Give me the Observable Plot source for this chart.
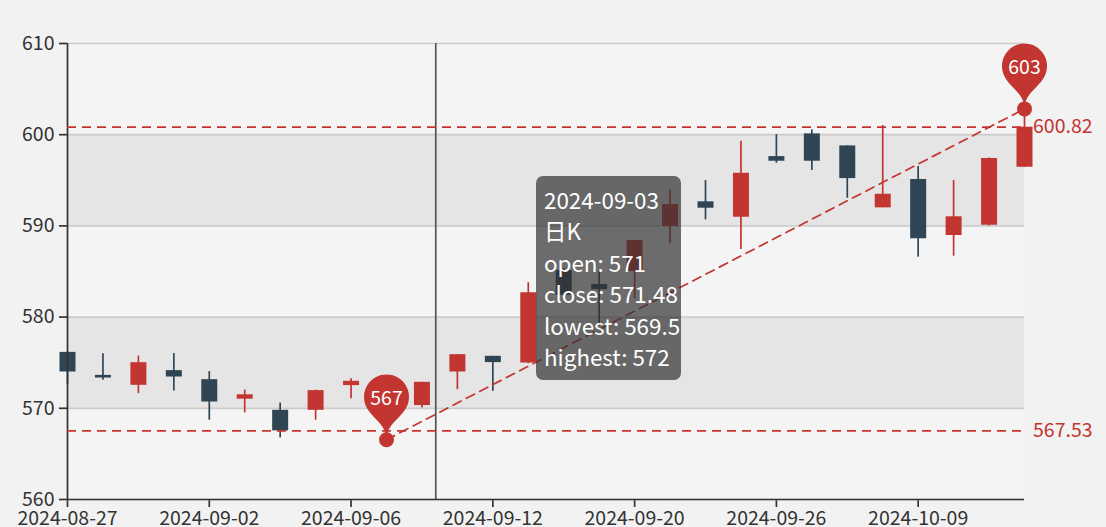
<!DOCTYPE html>
<html>
<head>
<meta charset="utf-8">
<script src="https://cdn.jsdelivr.net/npm/d3@7"></script>
<script src="https://cdn.jsdelivr.net/npm/@observablehq/plot@0.6"></script>
<style>
  html, body { margin: 0; padding: 0; background: #f2f2f2; }
  #wrap { position: relative; width: 1106px; height: 527px; overflow: hidden; }
  #wrap svg { display: block; }
  #wrap g[aria-label*="axis"] line, #wrap g[aria-label*="axis"] path { stroke-width: 1.7px; }
  #tip {
    position: absolute; box-sizing: border-box;
    left: 536px; top: 176px; width: 145px; height: 204px;
    padding: 8px 8px; border-radius: 7px;
    background: rgba(50, 50, 50, 0.7); color: #fff;
    font-family: "Noto Sans CJK SC", "Noto Sans", sans-serif;
    font-size: 22.4px; line-height: 31.4px; white-space: nowrap;
  }
</style>
</head>
<body>
<div id="wrap"></div>
<script>
// ---- data ----
const dates = [
  "2024-08-27","2024-08-28","2024-08-29","2024-08-30","2024-09-02","2024-09-03","2024-09-04",
  "2024-09-05","2024-09-06","2024-09-09","2024-09-10","2024-09-11","2024-09-12","2024-09-13",
  "2024-09-18","2024-09-19","2024-09-20","2024-09-23","2024-09-24","2024-09-25","2024-09-26",
  "2024-09-27","2024-09-30","2024-10-08","2024-10-09","2024-10-10","2024-10-11","2024-10-14"
];
const openV  = [576.13,573.61,572.52,574.13,573.14,571,569.78,569.78,572.49,570.2,570.30,573.98,575.70,574.96,
                585.12,583.58,585.0,589.93,592.64,590.95,597.6,600.09,598.77,591.98,595.08,588.95,590.08,596.43];
const closeV = [573.98,573.32,575.0,573.43,570.69,571.48,567.53,571.94,572.96,571.3,572.85,575.88,575.01,582.67,
                582.38,583.0,588.4,592.34,591.94,595.77,597.09,597.09,595.19,593.47,588.59,591.0,597.38,600.82];
const lowV   = [572.6,573.07,571.61,571.9,568.69,569.5,566.75,568.69,571.06,566.55,570.03,572.05,571.86,574.9,
                582.2,579.09,582.0,588.04,590.67,587.41,596.87,596.07,593.03,591.98,586.57,586.68,590.0,596.4];
const highV  = [576.2,575.99,575.73,576.0,574.02,572,570.58,572.0,573.25,572.0,572.85,575.9,575.70,583.77,
                585.3,585.12,588.4,593.95,594.97,599.28,600.01,600.53,598.77,601.0,596.51,594.97,597.45,602.83];
const yTicks = [560, 570, 580, 590, 600, 610];
const xTickIndex = [0, 4, 8, 12, 16, 20, 24];
const seriesName = "日K";
const tooltipIndex = 5;      // tooltip shows 2024-09-03
const pointerX = 10.39;      // axis-pointer position (in category units)

// ---- styles ----
const upColor = "#c23531", downColor = "#2f4554", markColor = "#c23531";
const font = '"Noto Sans CJK SC", "Noto Sans", sans-serif';
const fs = 19.5;

const data = dates.map((d, i) => ({
  i, date: d, open: openV[i], close: closeV[i], low: lowV[i], high: highV[i]
}));
const colorOf = d => d.close >= d.open ? upColor : downColor;

const iMinLow = d3.minIndex(data, d => d.low);
const iMaxHigh = d3.maxIndex(data, d => d.high);
const minClose = d3.min(data, d => d.close);
const maxClose = d3.max(data, d => d.close);
const extremes = [
  {i: iMinLow, v: data[iMinLow].low},
  {i: iMaxHigh, v: data[iMaxHigh].high}
];
const bands = d3.pairs(yTicks).map(([a, b], k) => ({y1: a, y2: b, k}));

// ECharts-like "pin" symbol, tip at origin
const pin = {
  draw(ctx, size) {
    const s = Math.sqrt(size / Math.PI) * 2; // symbol size
    const x = 0, y = 0;
    const w = s / 5 * 3, h = Math.max(w, s), r = w / 2;
    const dy = r * r / (h - r), cy = y - h + r + dy;
    const ang = Math.asin(dy / r), dx = Math.cos(ang) * r;
    const tanX = Math.sin(ang), tanY = Math.cos(ang);
    const c1 = r * 0.6, c2 = r * 0.7;
    ctx.moveTo(x - dx, cy + dy);
    ctx.arc(x, cy, r, Math.PI - ang, Math.PI * 2 + ang);
    ctx.bezierCurveTo(x + dx - tanX * c1, cy + dy + tanY * c1, x, y - c2, x, y);
    ctx.bezierCurveTo(x, y - c2, x - dx + tanX * c1, cy + dy + tanY * c1, x - dx, cy + dy);
    ctx.closePath();
  }
};

const chart = Plot.plot({
  width: 1106, height: 527,
  marginLeft: 67, marginRight: 82, marginTop: 43, marginBottom: 28,
  style: {background: "transparent", fontFamily: font, fontSize: fs + "px", color: "#333"},
  x: {type: "linear", domain: [0, dates.length - 1], ticks: xTickIndex,
      tickFormat: i => dates[i], tickSize: 8, tickPadding: 4, label: null},
  y: {domain: [yTicks[0], yTicks[yTicks.length - 1]], ticks: yTicks,
      tickSize: 8, tickPadding: 5, label: null},
  marks: [
    Plot.rect(bands, {y1: "y1", y2: "y2",
      fill: d => d.k % 2 === 0 ? "rgba(250,250,250,0.3)" : "rgba(200,200,200,0.3)"}),
    Plot.ruleY(yTicks, {stroke: "#ccc", strokeWidth: 1.7}),
    Plot.ruleX([pointerX], {stroke: "#555", strokeWidth: 1.7}),
    // wicks
    Plot.ruleX(data, {x: "i", y1: "low", y2: "high", stroke: colorOf, strokeWidth: 1.7}),
    // bodies
    Plot.ruleX(data, {x: "i", y1: "open", y2: "close", stroke: colorOf, strokeWidth: 16}),
    // axes lines
    Plot.ruleX([0], {stroke: "#333", strokeWidth: 1.7}),
    Plot.ruleY([yTicks[0]], {stroke: "#333", strokeWidth: 1.7}),
    // mark points (pins)
    Plot.dot(extremes, {x: "i", y: "v", symbol: pin, r: 37.5, fill: markColor, stroke: "none"}),
    Plot.text(extremes, {x: "i", y: "v", text: d => String(Math.round(d.v)), dy: -41,
      fill: "#fff", fontSize: fs, textAnchor: "middle", lineAnchor: "middle"}),
    // mark lines
    Plot.ruleY([minClose, maxClose], {stroke: markColor, strokeWidth: 1.7, strokeDasharray: "9,6"}),
    Plot.line(extremes, {x: "i", y: "v", stroke: markColor, strokeWidth: 1.7, strokeDasharray: "9,6"}),
    Plot.dot(extremes, {x: "i", y: "v", r: 7.5, fill: markColor, stroke: "none"}),
    Plot.text([minClose, maxClose], {x: dates.length - 1, y: d => d, text: d => d.toFixed(2),
      dx: 8.5, textAnchor: "start", fill: markColor, fontSize: fs, lineAnchor: "middle"})
  ]
});

const wrap = document.getElementById("wrap");
wrap.appendChild(chart);

const t = data[tooltipIndex];
const tip = document.createElement("div");
tip.id = "tip";
[t.date, seriesName, `open: ${t.open}`, `close: ${t.close}`, `lowest: ${t.low}`, `highest: ${t.high}`]
  .forEach(s => { const row = document.createElement("div"); row.textContent = s; tip.appendChild(row); });
wrap.appendChild(tip);
</script>
</body>
</html>
